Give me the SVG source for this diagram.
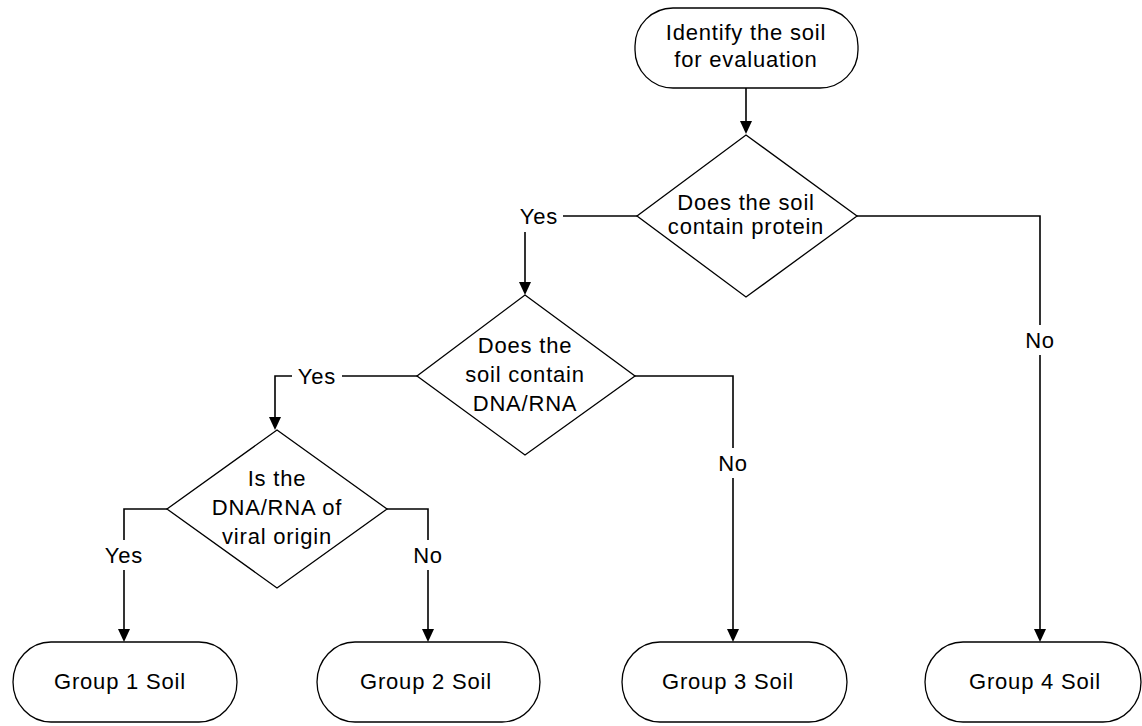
<svg xmlns="http://www.w3.org/2000/svg" width="1142" height="726" viewBox="0 0 1142 726">
<style>
.node{fill:#fff;stroke:#000;stroke-width:1.3}
.t{font-family:"Liberation Sans",Arial,sans-serif;font-size:22px;letter-spacing:0.8px;fill:#000;text-anchor:middle}
.c{fill:none;stroke:#000;stroke-width:1.6}
.ah{fill:#000}
</style>
<rect width="1142" height="726" fill="#fff"/>
<g id="connectors">
<path class="c" d="M746,88 V124"/>
<path class="c" d="M637,216 H563"/>
<path class="c" d="M525,232 V285"/>
<path class="c" d="M857,216 H1040 V325"/>
<path class="c" d="M1040,355 V632"/>
<path class="c" d="M417,376 H342"/>
<path class="c" d="M292,376 H275 V420"/>
<path class="c" d="M635,376 H733 V448"/>
<path class="c" d="M733,478 V632"/>
<path class="c" d="M167,509 H124 V540"/>
<path class="c" d="M124,570 V632"/>
<path class="c" d="M387,509 H428 V540"/>
<path class="c" d="M428,570 V632"/>
<path class="ah" d="M740,121 H752 L746,134 Z"/>
<path class="ah" d="M519,282 H531 L525,295 Z"/>
<path class="ah" d="M269,417 H281 L275,430 Z"/>
<path class="ah" d="M118,629 H130 L124,642 Z"/>
<path class="ah" d="M422,629 H434 L428,642 Z"/>
<path class="ah" d="M727,629 H739 L733,642 Z"/>
<path class="ah" d="M1034,629 H1046 L1040,642 Z"/>
</g>
<g id="labels">
<text class="t" x="539" y="224">Yes</text>
<text class="t" x="1040" y="348">No</text>
<text class="t" x="317" y="384">Yes</text>
<text class="t" x="733" y="471">No</text>
<text class="t" x="124" y="563">Yes</text>
<text class="t" x="428" y="563">No</text>
</g>
<g id="start">
<rect class="node" x="635" y="8" width="223" height="80" rx="38" ry="38"/>
<text class="t" x="746" y="40">Identify the soil</text>
<text class="t" x="746" y="67">for evaluation</text>
</g>
<g id="q-protein">
<polygon class="node" points="746,135 857,216 746,297 637,216"/>
<text class="t" x="746" y="210">Does the soil</text>
<text class="t" x="746" y="234">contain protein</text>
</g>
<g id="q-dna">
<polygon class="node" points="525,295 635,376 525,455 417,376"/>
<text class="t" x="525" y="353">Does the</text>
<text class="t" x="525" y="382">soil contain</text>
<text class="t" x="525" y="411">DNA/RNA</text>
</g>
<g id="q-viral">
<polygon class="node" points="277,430 387,509 277,588 167,509"/>
<text class="t" x="277" y="486">Is the</text>
<text class="t" x="277" y="515">DNA/RNA of</text>
<text class="t" x="277" y="544">viral origin</text>
</g>
<g id="group1">
<rect class="node" x="13" y="642" width="224" height="80" rx="38" ry="40"/>
<text class="t" x="120" y="689">Group 1 Soil</text>
</g>
<g id="group2">
<rect class="node" x="317" y="642" width="223" height="80" rx="38" ry="40"/>
<text class="t" x="426" y="689">Group 2 Soil</text>
</g>
<g id="group3">
<rect class="node" x="622" y="642" width="225" height="80" rx="38" ry="40"/>
<text class="t" x="728" y="689">Group 3 Soil</text>
</g>
<g id="group4">
<rect class="node" x="925" y="642" width="216" height="80" rx="38" ry="40"/>
<text class="t" x="1035" y="689">Group 4 Soil</text>
</g>
</svg>
